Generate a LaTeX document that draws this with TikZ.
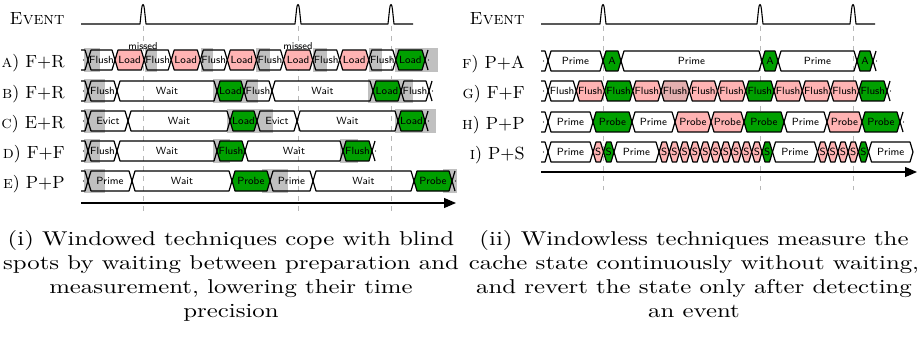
\documentclass[tikz,border=0pt]{standalone}
\usepackage{graphicx}
\usetikzlibrary{arrows.meta}

\definecolor{pinkfill}{HTML}{FFB3B3}
\definecolor{darkpink}{HTML}{E3AFAF}
\definecolor{okgreen}{HTML}{00A000}
\definecolor{blindgray}{HTML}{C0C0C0}
\definecolor{markgray}{HTML}{B8B8B8}

\tikzset{
  segw/.style={draw=black, line width=0.6pt, line join=round},
  segp/.style={segw, fill=pinkfill},
  segd/.style={segw, fill=darkpink},
  segg/.style={segw, fill=okgreen},
  lbl/.style={font=\fontsize{5.2}{6}\selectfont\sffamily, inner sep=0pt},
  misslbl/.style={font=\fontsize{5}{6}\selectfont\sffamily, inner sep=0pt},
  rowlabel/.style={font=\fontsize{8.8}{10}\selectfont, anchor=base east, inner sep=0pt},
  evline/.style={draw=black, line width=0.55pt, line join=round},
  marker/.style={draw=markgray, line width=0.5pt, dash pattern=on 2.5pt off 2.5pt},
  timeaxis/.style={draw=black, line width=0.6pt, -{Triangle[length=6pt, width=5pt]}},
  blind/.style={fill=blindgray},
  captext/.style={inner sep=0pt, anchor=base}
}

% one hexagonal interval of a timing row: name, x0, x1, y, style, text
\newcommand{\seg}[6]{%
  \path[#5] (#2,#4) -- ({#2+3},{#4-10}) -- ({#3-3},{#4-10}) -- (#3,#4)
    -- ({#3-3},{#4+10}) -- ({#2+3},{#4+10}) -- cycle;
  \node[lbl] (#1) at ({(#2+#3)/2},#4) {#6};
}
% open start of a row, ending in a crossing at x=88 (or given)
\newcommand{\rowstart}[2]{%
  \draw[segw] (#1,{#2-10}) -- ({#1+4},{#2-10}) -- ({#1+7},#2) -- ({#1+4},{#2+10}) -- (#1,{#2+10});
  \fill ({#1+2.5},#2) circle (0.6);
}
% open end of a row after the crossing at x
\newcommand{\rowend}[2]{%
  \draw[segw] ({#1+3},{#2-10}) -- (#1,#2) -- ({#1+3},{#2+10});
  \fill ({#1+3.5},#2) circle (0.6);
}
% event trace with three pulses
\newcommand{\eventtrace}[5]{%
  \draw[evline] (#1,24)
    -- ({#2-3},24) -- ({#2-1.4},9) .. controls ({#2-0.9},3) and ({#2+0.9},3) .. ({#2+1.4},9) -- ({#2+3},24)
    -- ({#3-3},24) -- ({#3-1.4},9) .. controls ({#3-0.9},3) and ({#3+0.9},3) .. ({#3+1.4},9) -- ({#3+3},24)
    -- ({#4-3},24) -- ({#4-1.4},9) .. controls ({#4-0.9},3) and ({#4+0.9},3) .. ({#4+1.4},9) -- ({#4+3},24)
    -- (#5,24);
}

\begin{document}
\begin{tikzpicture}[x=0.5pt, y=-0.5pt]
\useasboundingbox (0,0) rectangle (921,342);

% ---------------- windowed techniques ----------------
\node[rowlabel] (evL) at (65,25) {\textsc{Event}};
\eventtrace{81}{143}{298}{391}{413}

\foreach \x [count=\i] in {143,298,391}
  \draw[marker] (\x,26) -- (\x,212);

% blind spots
\foreach \a/\b/\y in {84/100/60, 145/157/60, 201/213/60, 256/270/60, 313/327/60, 369/382/60, 395/438/60,
                      84/105/91, 213/258/91, 368/413/91,
                      84/105/121, 227/273/121, 395/436/121,
                      84/100/151, 213/230/151, 340/358/151,
                      84/105/181, 262/288/181, 443/457/181}
  \fill[blind] (\a,{\y-12}) rectangle (\b,{\y+12});

% a) F+R
\node[rowlabel] (la) at (65,68) {\textsc{a}) F+R};
\rowstart{81}{60}
\foreach \a/\b/\s/\t [count=\i] in {88/115/segw/Flush, 115/144.2/segp/Load, 144.2/171.2/segw/Flush,
    171.2/200.3/segp/Load, 200.3/227.3/segw/Flush, 227.3/256.5/segp/Load, 256.5/283.5/segw/Flush,
    283.5/312.7/segp/Load, 312.7/339.7/segw/Flush, 339.7/368.8/segp/Load, 368.8/395.8/segw/Flush,
    395.8/425/segg/Load}
  {\seg{A\i}{\a}{\b}{60}{\s}{\t}}
\rowend{425}{60}
\node[misslbl] (miss1) at (143,46) {missed};
\node[misslbl] (miss2) at (298,46) {missed};

% b) F+R
\node[rowlabel] (lb) at (65,99) {\textsc{b}) F+R};
\rowstart{81}{91}
\foreach \a/\b/\s/\t [count=\i] in {88/117/segw/Flush, 117/217/segw/Wait, 217/244/segg/Load,
    244/272/segw/Flush, 272/373/segw/Wait, 373/401/segg/Load, 401/429/segw/Flush}
  {\seg{B\i}{\a}{\b}{91}{\s}{\t}}
\rowend{429}{91}

% c) E+R
\node[rowlabel] (lc) at (65,129) {\textsc{c}) E+R};
\rowstart{81}{121}
\foreach \a/\b/\s/\t [count=\i] in {88/128/segw/Evict, 128/230/segw/Wait, 230/257/segg/Load,
    257/297/segw/Evict, 297/398/segw/Wait, 398/425/segg/Load}
  {\seg{C\i}{\a}{\b}{121}{\s}{\t}}
\rowend{425}{121}

% d) F+F
\node[rowlabel] (ld) at (65,159) {\textsc{d}) F+F};
\rowstart{81}{151}
\foreach \a/\b/\s/\t [count=\i] in {88/117/segw/Flush, 117/217/segw/Wait, 217/245/segg/Flush,
    245/343/segw/Wait, 343/372/segg/Flush}
  {\seg{D\i}{\a}{\b}{151}{\s}{\t}}
\rowend{372}{151}

% e) P+P
\node[rowlabel] (le) at (65,189) {\textsc{e}) P+P};
\rowstart{81}{181}
\foreach \a/\b/\s/\t [count=\i] in {88/132/segw/Prime, 132/232/segw/Wait, 232/270/segg/Probe,
    270/313/segw/Prime, 313/414/segw/Wait, 414/452/segg/Probe}
  {\seg{E\i}{\a}{\b}{181}{\s}{\t}}
\rowend{452}{181}

\coordinate (tl0) at (81,203);
\coordinate (tl1) at (456,203);
\draw[timeaxis] (tl0) -- (tl1);

% ---------------- windowless techniques ----------------
\node[rowlabel] (evR) at (525,25) {\textsc{Event}};
\eventtrace{541}{603}{760}{853}{875}

\foreach \x in {603,760,853}
  \draw[marker] (\x,26) -- (\x,190);

% f) P+A
\node[rowlabel] (lf) at (525,69) {\textsc{f}) P+A};
\rowstart{541}{61}
\foreach \a/\b/\s/\t [count=\i] in {548/603/segw/Prime, 603/621/segg/A, 621/762/segw/Prime,
    762/778/segg/A, 778/857/segw/Prime, 857/873/segg/A}
  {\seg{F\i}{\a}{\b}{61}{\s}{\t}}
\rowend{873}{61}

% g) F+F
\node[rowlabel] (lg) at (525,99) {\textsc{g}) F+F};
\rowstart{541}{91}
\foreach \s [count=\i from 0] in {segw, segp, segg, segp, segd, segp, segp, segg, segp, segp, segp, segg}
  {\pgfmathsetmacro{\xa}{548+28.25*\i}\pgfmathsetmacro{\xb}{\xa+28.25}%
   \seg{G\i}{\xa}{\xb}{91}{\s}{Flush}}
\rowend{887}{91}

% h) P+P
\node[rowlabel] (lh) at (525,130) {\textsc{h}) P+P};
\rowstart{541}{122}
\foreach \a/\b/\s/\t [count=\i] in {548/593/segw/Prime, 593/632/segg/Probe, 632/675/segw/Prime,
    675/711/segp/Probe, 711/744/segp/Probe, 744/784/segg/Probe, 784/827/segw/Prime,
    827/862/segp/Probe, 862/900/segg/Probe}
  {\seg{H\i}{\a}{\b}{122}{\s}{\t}}
\rowend{900}{122}

% i) P+S
\node[rowlabel] (li) at (525,160) {\textsc{i}) P+S};
\rowstart{541}{152}
\foreach \a/\b/\s/\t [count=\i] in {548/593/segw/Prime, 593/603.5/segp/S, 603.5/614/segg/S,
    614/659/segw/Prime, 659/669.3/segp/S, 669.3/679.6/segp/S, 679.6/689.9/segp/S,
    689.9/700.2/segp/S, 700.2/710.5/segp/S, 710.5/720.8/segp/S, 720.8/731.1/segp/S,
    731.1/741.4/segp/S, 741.4/751.7/segp/S, 751.7/762/segp/S, 762/772.5/segg/S,
    772.5/817.5/segw/Prime, 817.5/827.7/segp/S, 827.7/837.9/segp/S, 837.9/848.1/segp/S,
    848.1/858.3/segp/S, 858.3/868.5/segg/S, 868.5/913/segw/Prime}
  {\seg{I\i}{\a}{\b}{152}{\s}{\t}}

\coordinate (tr0) at (541,172);
\coordinate (tr1) at (917,172);
\draw[timeaxis] (tr0) -- (tr1);

% ---------------- captions ----------------
\node[captext] (capL) at (231,245) {\fontsize{10}{12}\selectfont\scalebox{1.24}[1]{%
  \begin{tabular}[t]{@{}c@{}}
  (i) Windowed techniques cope with blind\\
  spots by waiting between preparation and\\
  measurement, lowering their time\\
  precision
  \end{tabular}}};
\node[captext] (capR) at (694,245) {\fontsize{10}{12}\selectfont\scalebox{1.24}[1]{%
  \begin{tabular}[t]{@{}c@{}}
  (ii) Windowless techniques measure the\\
  cache state continuously without waiting,\\
  and revert the state only after detecting\\
  an event
  \end{tabular}}};
\end{tikzpicture}
\end{document}
